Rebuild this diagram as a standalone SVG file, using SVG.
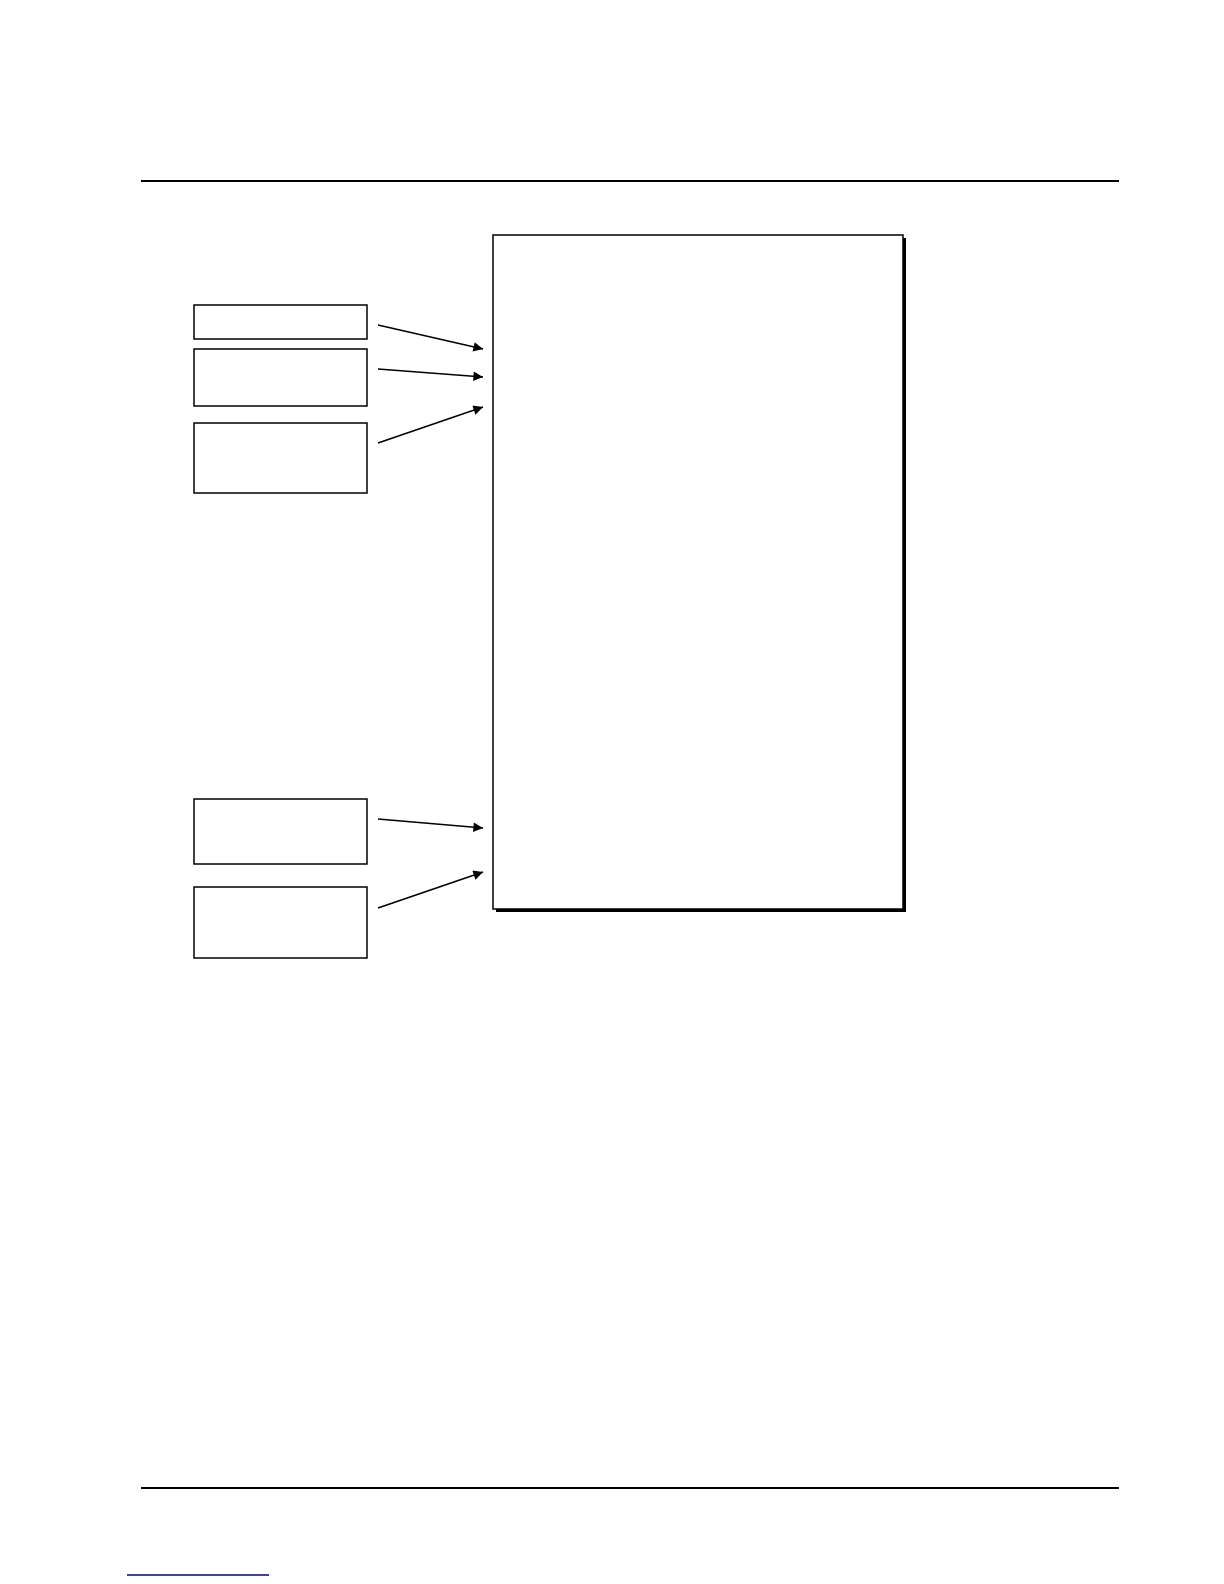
<svg xmlns="http://www.w3.org/2000/svg" width="1224" height="1584" viewBox="0 0 1224 1584">
<style>
.box{fill:#fff;stroke:#000;stroke-width:1.5}
.rule{stroke:#000;stroke-width:2.2}
.conn{stroke:#000;stroke-width:1.6;fill:none}
</style>
<defs>
<marker id="ah" viewBox="0 0 10 10" refX="10" refY="5" markerWidth="8" markerHeight="6" orient="auto" markerUnits="strokeWidth">
<path d="M0,0 L10,5 L0,10 z" fill="#000"/>
</marker>
</defs>
<rect width="1224" height="1584" fill="#fff"/>
<line class="rule" x1="141" y1="181" x2="1119" y2="181"/>
<line class="rule" x1="141" y1="1488" x2="1119" y2="1488"/>
<line x1="127" y1="1575" x2="269" y2="1575" stroke="#000080" stroke-width="1.6"/>
<g id="main">
<rect x="496" y="238" width="410" height="674" fill="#000"/>
<rect class="box" x="493" y="235" width="410" height="674"/>
</g>
<g id="n1"><rect class="box" x="194" y="305" width="173" height="34"/></g>
<g id="n2"><rect class="box" x="194" y="349" width="173" height="57"/></g>
<g id="n3"><rect class="box" x="194" y="423" width="173" height="70"/></g>
<g id="n4"><rect class="box" x="194" y="799" width="173" height="65"/></g>
<g id="n5"><rect class="box" x="194" y="887" width="173" height="71"/></g>
<g id="connectors">
<line class="conn" x1="378" y1="325" x2="483" y2="349" marker-end="url(#ah)"/>
<line class="conn" x1="378" y1="369" x2="483" y2="377" marker-end="url(#ah)"/>
<line class="conn" x1="378" y1="443" x2="483" y2="407" marker-end="url(#ah)"/>
<line class="conn" x1="378" y1="819" x2="483" y2="828" marker-end="url(#ah)"/>
<line class="conn" x1="378" y1="908" x2="483" y2="872" marker-end="url(#ah)"/>
</g>
</svg>
